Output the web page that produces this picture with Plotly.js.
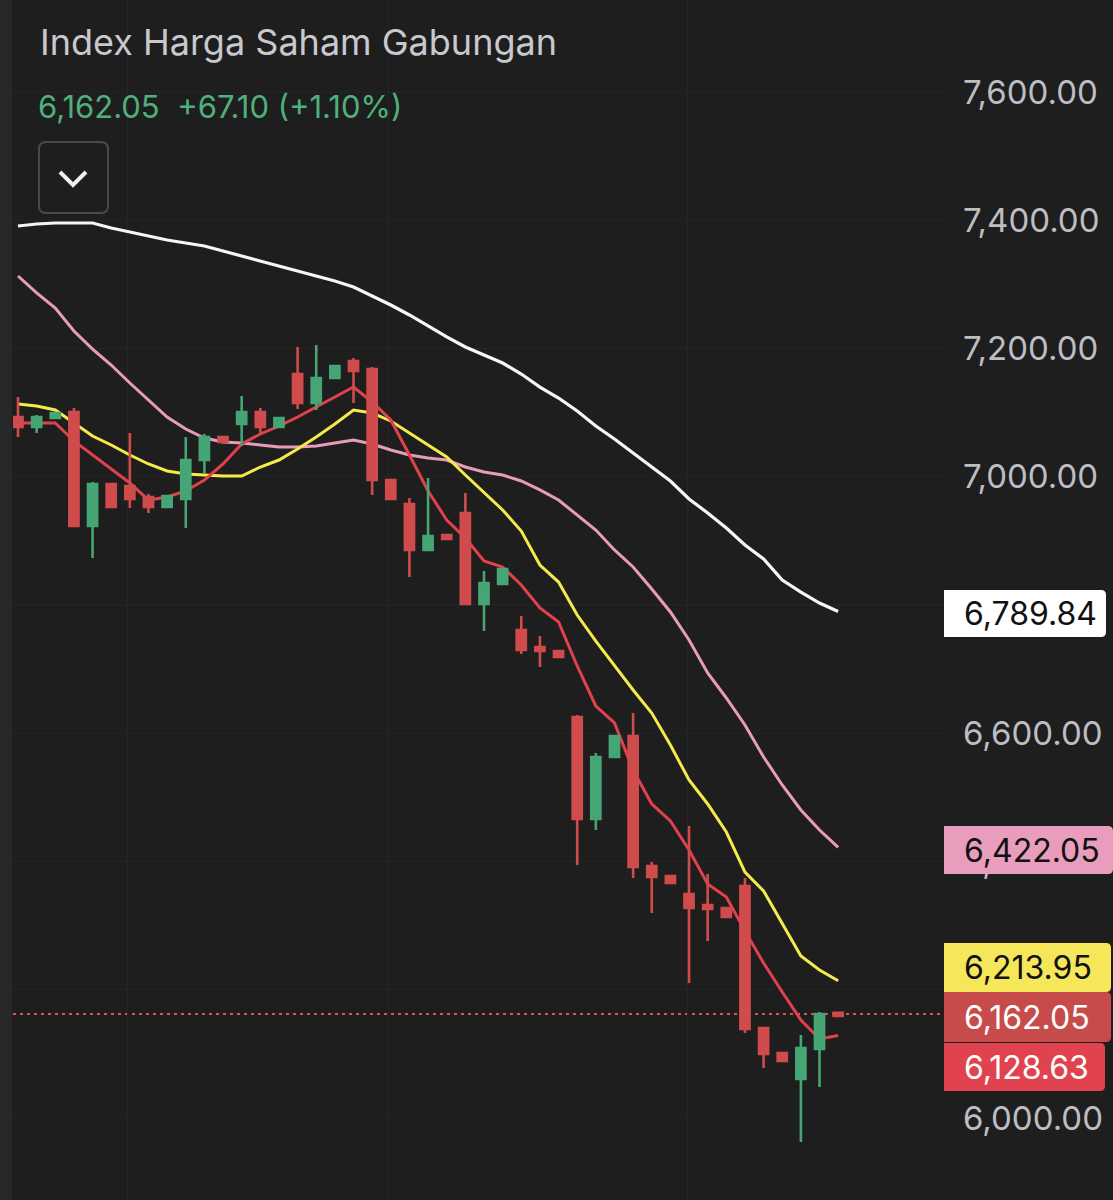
<!DOCTYPE html>
<html><head><meta charset="utf-8">
<script src="https://cdn.plot.ly/plotly-3.0.1.min.js"></script>
<style>html,body{margin:0;padding:0;background:#1e1e1e;}#chart{width:1113px;height:1200px;}</style>
</head><body><div id="chart"></div>
<script>
// ---- data ----
const sessions = [0,1,2,3,4,5,6,7,8,9,10,11,12,13,14,15,16,17,18,19,20,21,22,23,24,25,26,27,28,29,30,31,32,33,34,35,36,37,38,39,40,41,42,43,44];
const openP  = [7093.2,7077.6,7091.6,7101.0,6923.2,6988.7,6985.6,6968.4,6952.8,6965.3,7026.1,7062.0,7082.3,7101.0,7077.6,7160.2,7115.0,7154.0,7180.5,7168.0,6994.9,6957.5,6885.8,6909.2,6943.5,6801.6,6832.7,6761.0,6734.5,6728.3,6625.3,6466.3,6563.0,6595.7,6393.0,6377.4,6349.3,6332.1,6327.5,6361.8,6140.3,6101.3,6060.8,6107.6,6164.0];
const highP  = [7124.4,7096.3,7101.0,7107.2,6991.8,6990.0,7068.2,6973.1,6971.0,7062.0,7066.7,7063.0,7125.9,7107.2,7092.5,7202.4,7205.5,7174.0,7185.2,7171.1,6996.0,6966.9,6998.1,6910.0,6974.6,6853.0,6857.0,6782.8,6751.7,6729.5,6628.4,6569.2,6597.0,6631.6,6399.2,6378.5,6455.4,6380.5,6329.0,6374.3,6141.5,6102.5,6129.4,6165.3,6164.0];
const lowP   = [7062.0,7068.2,7090.1,6921.6,6873.3,6952.0,6951.3,6943.5,6951.0,6920.1,7005.9,7053.0,7048.0,7068.2,7076.5,7105.7,7104.1,7153.0,7115.0,6971.6,6964.0,6843.7,6884.5,6902.0,6800.0,6759.5,6831.0,6723.6,6703.3,6717.5,6394.5,6449.1,6562.0,6374.3,6319.7,6365.0,6210.5,6276.0,6312.0,6132.6,6078.0,6087.5,5962.6,6048.3,6159.0];
const closeP = [7077.6,7093.2,7099.4,6923.2,6988.7,6952.8,6965.3,6952.8,6970.0,7026.1,7062.0,7054.2,7101.0,7077.6,7091.6,7115.0,7154.0,7172.7,7164.9,6994.9,6965.3,6885.8,6907.6,6903.0,6801.6,6834.3,6856.1,6729.8,6728.3,6718.9,6466.3,6563.0,6595.7,6391.4,6375.8,6366.4,6327.5,6325.9,6313.4,6138.8,6099.8,6088.9,6109.1,6162.05,6159.0];

const maRed    = [7083.8,7083.8,7083.8,7055.8,7033.9,7012.1,6990.3,6963.7,6968.4,6977.8,6994.9,7019.9,7051.1,7066.7,7079.1,7093.2,7108.8,7124.4,7139.9,7116.6,7088.5,7033.9,6977.8,6932.6,6904.5,6868.6,6859.3,6831.2,6795.3,6773.5,6704.9,6642.5,6616.0,6542.7,6489.7,6463.2,6417.9,6364.9,6344.6,6291.6,6241.7,6196.5,6152.8,6123.2,6128.63];
const maYellow = [7113.5,7110.3,7104.1,7083.8,7063.5,7049.5,7033.9,7019.9,7009.0,7004.3,7002.7,7001.2,7001.2,7015.2,7026.1,7043.3,7062.0,7082.3,7104.1,7099.4,7087.0,7068.2,7049.5,7030.8,7002.7,6976.2,6948.2,6915.4,6862.4,6835.8,6784.4,6743.8,6704.9,6667.4,6631.6,6581.6,6527.1,6489.7,6446.0,6383.6,6354.0,6304.1,6252.6,6230.8,6213.95];
const maPink   = [7313.1,7286.6,7263.2,7227.3,7199.2,7174.3,7146.2,7119.7,7093.2,7074.5,7060.4,7054.2,7052.6,7049.5,7046.4,7046.4,7047.9,7052.6,7057.3,7051.1,7041.7,7033.9,7029.2,7026.1,7015.2,7007.4,7002.7,6993.4,6979.4,6963.7,6940.4,6916.9,6885.8,6859.3,6825.0,6789.1,6745.4,6694.0,6655.0,6612.9,6563.0,6519.3,6480.3,6449.1,6422.05];
const maWhite  = [7391.1,7394.2,7395.7,7395.7,7395.7,7388.0,7381.7,7375.5,7369.2,7364.5,7359.9,7352.1,7344.3,7336.5,7328.7,7320.9,7313.1,7305.3,7295.9,7281.9,7267.9,7252.3,7235.1,7218.0,7202.4,7189.9,7177.4,7160.2,7139.9,7122.8,7102.5,7079.1,7058.9,7037.0,7015.2,6993.4,6965.3,6943.5,6920.1,6893.6,6871.8,6838.8,6820.2,6803.1,6789.84];

const lastPrice = 6162.05;
const maLabels = ["6,789.84","6,422.05","6,213.95","6,162.05","6,128.63"];
// 6,200 and 6,800 ticks are fully hidden behind the value tags in the reference
const yTickVals = [6000,6400,6600,7000,7200,7400,7600];
const yTickText = ["6,000.00","6,400.00","6,600.00","7,000.00","7,200.00","7,400.00","7,600.00"];
const gridVals = [6000,6200,6400,6600,6800,7000,7200,7400,7600];
const titleText = "Index Harga Saham Gabungan";
const quoteText = "6,162.05\u00a0\u00a0+67.10 (+1.10%)";

// ---- geometry helpers (layout only) ----
const W = 1113, H = 1200, PL = 13, PR = 944, PW = PR - PL;
const px = x => (x - PL) / PW;
const py = y => 1 - y / H;
const yRange = [5872.1, 7743.5];
const xRange = [-0.268, 49.678];

function boxPath(x0, y0, x1, y1, rl, rr) {
  const P = (x, y) => px(x).toFixed(5) + ',' + py(y).toFixed(5);
  let d = 'M' + P(x0 + rl, y0) + ' L' + P(x1 - rr, y0);
  d += rr ? ' Q' + P(x1, y0) + ' ' + P(x1, y0 + rr) : '';
  d += ' L' + P(x1, y1 - rr);
  d += rr ? ' Q' + P(x1, y1) + ' ' + P(x1 - rr, y1) : '';
  d += ' L' + P(x0 + rl, y1);
  d += rl ? ' Q' + P(x0, y1) + ' ' + P(x0, y1 - rl) : '';
  d += ' L' + P(x0, y0 + rl);
  d += rl ? ' Q' + P(x0, y0) + ' ' + P(x0 + rl, y0) : '';
  return d + ' Z';
}

const maLine = (y, color, w) => ({
  type: 'scatter', mode: 'lines', x: sessions, y: y, xaxis: 'x', yaxis: 'y',
  line: {color: color, width: w}, hoverinfo: 'skip', showlegend: false
});

const traces = [
  maLine(maWhite, '#f6f6f6', 3.2),
  maLine(maPink, '#e89bbd', 3),
  maLine(maYellow, '#f5ea4b', 3),
  maLine(maRed, '#e0424c', 3),
  {
    type: 'candlestick', x: sessions, open: openP, high: highP, low: lowP, close: closeP,
    xaxis: 'x', yaxis: 'y2',
    increasing: {line: {color: '#46a574', width: 2.6}, fillcolor: '#46a574'},
    decreasing: {line: {color: '#d04c4c', width: 2.6}, fillcolor: '#d04c4c'},
    whiskerwidth: 0, hoverinfo: 'skip', showlegend: false
  }
];

const boxes = [
  {y0: 590, y1: 637, x1: 1106, fill: '#ffffff', text: maLabels[0], tc: '#111111'},
  {y0: 826, y1: 874, x1: 1113, fill: '#e99dbd', text: maLabels[1], tc: '#111111'},
  {y0: 943, y1: 992, x1: 1111, fill: '#f6e65a', text: maLabels[2], tc: '#111111'},
  {y0: 992, y1: 1042, x1: 1111, fill: '#c84b4b', text: maLabels[3], tc: '#ffffff'},
  {y0: 1043, y1: 1091, x1: 1105, fill: '#e1434e', text: maLabels[4], tc: '#ffffff'}
];

const shapes = [
  {type: 'rect', xref: 'paper', yref: 'paper', x0: px(0), x1: px(12), y0: 0, y1: 1,
   fillcolor: '#282828', line: {width: 0}, layer: 'above'},
  {type: 'line', xref: 'paper', yref: 'y', x0: 0, x1: 1, y0: lastPrice, y1: lastPrice,
   line: {color: '#d9534f', width: 2, dash: '3px,4px'}, layer: 'below'},
  {type: 'path', xref: 'paper', yref: 'paper', path: boxPath(39, 142, 108, 213, 7, 7),
   fillcolor: '#1e1e1e', line: {color: '#4a4a4a', width: 2}, layer: 'above'},
  {type: 'path', xref: 'paper', yref: 'paper',
   path: 'M' + px(60) + ',' + py(172) + ' L' + px(73) + ',' + py(185) + ' L' + px(86) + ',' + py(172),
   line: {color: '#f0f0f0', width: 4}, layer: 'above'}
];
boxes.forEach(b => shapes.push({
  type: 'path', xref: 'paper', yref: 'paper', path: boxPath(944, b.y0, b.x1, b.y1, 0, 5),
  fillcolor: b.fill, line: {width: 0}, layer: 'above'
}));

const annotations = [
  {xref: 'paper', yref: 'paper', x: px(38), y: py(42), xanchor: 'left', yanchor: 'middle',
   text: titleText, showarrow: false, font: {family: 'Inter', size: 36, color: '#c9c9cd'}},
  {xref: 'paper', yref: 'paper', x: px(36), y: py(107), xanchor: 'left', yanchor: 'middle',
   text: quoteText, showarrow: false, font: {family: 'Inter', size: 31, color: '#4fb07c'}}
];
boxes.forEach(b => annotations.push({
  xref: 'paper', yref: 'paper', x: px(962), y: py((b.y0 + b.y1) / 2), xanchor: 'left', yanchor: 'middle',
  text: b.text, showarrow: false, font: {family: 'Inter', size: 32, color: b.tc}
}));

const layout = {
  width: W, height: H,
  margin: {l: PL, r: W - PR, t: 0, b: 0, pad: 0},
  paper_bgcolor: '#1e1e1e', plot_bgcolor: '#1e1e1e',
  showlegend: false, hovermode: false,
  boxgap: 0.3,
  xaxis: {range: xRange, showgrid: true, gridcolor: '#252525', gridwidth: 1,
          tickvals: [5.9, 19.85, 35.9], showticklabels: false, ticks: '',
          zeroline: false, showline: false, rangeslider: {visible: false}, fixedrange: true},
  yaxis: {range: yRange, side: 'right', tickvals: yTickVals, ticktext: yTickText,
          showgrid: false, zeroline: false, showline: false,
          ticks: '', ticklabelstandoff: 18,
          tickfont: {family: 'Inter', size: 33, color: '#bdbdc2'}, fixedrange: true},
  yaxis2: {range: yRange, overlaying: 'y', side: 'right', visible: false, fixedrange: true},
  shapes: shapes.concat(gridVals.map(v => ({
    type: 'line', xref: 'paper', yref: 'y', x0: 0, x1: 1, y0: v, y1: v,
    line: {color: '#262626', width: 1}, layer: 'below'
  }))),
  annotations: annotations
};

Plotly.newPlot('chart', traces, layout, {staticPlot: true, displayModeBar: false});
</script>
</body></html>
